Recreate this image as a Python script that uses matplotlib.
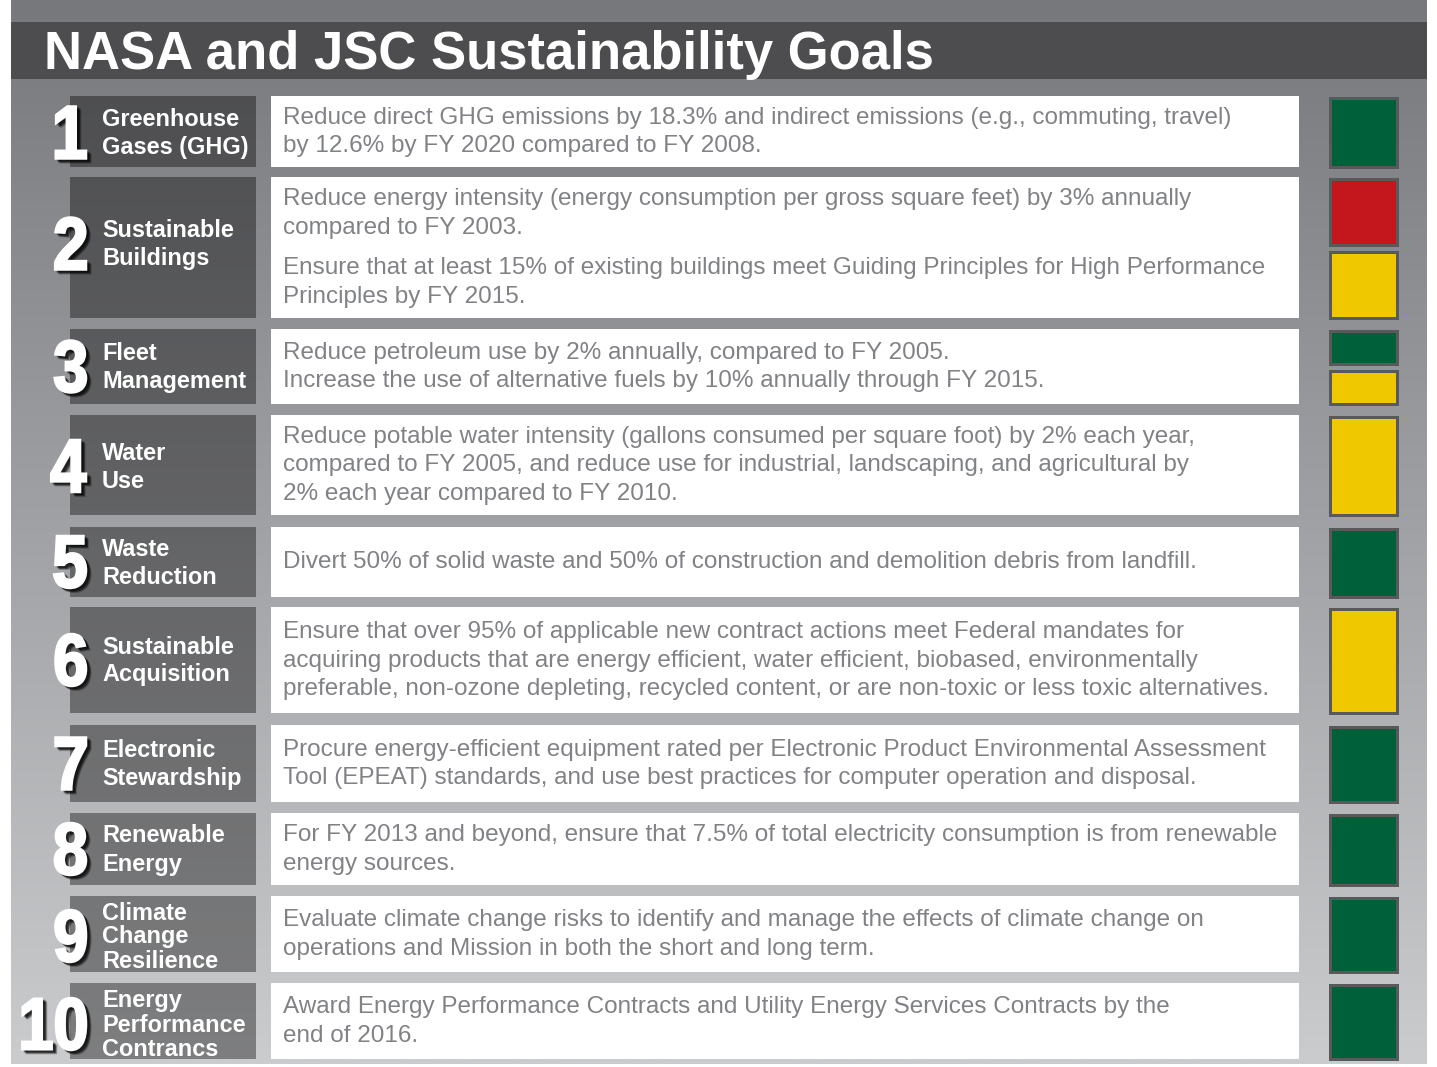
import numpy as np
import matplotlib
matplotlib.use("Agg")
import matplotlib.pyplot as plt
from matplotlib.patches import Rectangle, PathPatch
from matplotlib.textpath import TextPath
from matplotlib.font_manager import FontProperties
from matplotlib.path import Path

# ---------------- data ----------------
title = "NASA and JSC Sustainability Goals"
numbers = ["1", "2", "3", "4", "5", "6", "7", "8", "9", "10"]
labels = [
    ["Greenhouse", "Gases (GHG)"],
    ["Sustainable", "Buildings"],
    ["Fleet", "Management"],
    ["Water", "Use"],
    ["Waste", "Reduction"],
    ["Sustainable", "Acquisition"],
    ["Electronic", "Stewardship"],
    ["Renewable", "Energy"],
    ["Climate", "Change", "Resilience"],
    ["Energy", "Performance", "Contrancs"],
]
descriptions = [
    [["Reduce direct GHG emissions by 18.3% and indirect emissions (e.g., commuting, travel)",
      "by 12.6% by FY 2020 compared to FY 2008."]],
    [["Reduce energy intensity (energy consumption per gross square feet) by 3% annually",
      "compared to FY 2003."],
     ["Ensure that at least 15% of existing buildings meet Guiding Principles for High Performance",
      "Principles by FY 2015."]],
    [["Reduce petroleum use by 2% annually, compared to FY 2005.",
      "Increase the use of alternative fuels by 10% annually through FY 2015."]],
    [["Reduce potable water intensity (gallons consumed per square foot) by 2% each year,",
      "compared to FY 2005, and reduce use for industrial, landscaping, and agricultural by",
      "2% each year compared to FY 2010."]],
    [["Divert 50% of solid waste and 50% of construction and demolition debris from landfill."]],
    [["Ensure that over 95% of applicable new contract actions meet Federal mandates for",
      "acquiring products that are energy efficient, water efficient, biobased, environmentally",
      "preferable, non-ozone depleting, recycled content, or are non-toxic or less toxic alternatives."]],
    [["Procure energy-efficient equipment rated per Electronic Product Environmental Assessment",
      "Tool (EPEAT) standards, and use best practices for computer operation and disposal."]],
    [["For FY 2013 and beyond, ensure that 7.5% of total electricity consumption is from renewable",
      "energy sources."]],
    [["Evaluate climate change risks to identify and manage the effects of climate change on",
      "operations and Mission in both the short and long term."]],
    [["Award Energy Performance Contracts and Utility Energy Services Contracts by the",
      "end of 2016."]],
]
status = [["G"], ["R", "Y"], ["G", "Y"], ["Y"], ["G"], ["Y"], ["G"], ["G"], ["G"], ["G"]]

# ---------------- layout / style ----------------
W, H = 1437, 1067
status_colors = {"G": "#00603a", "R": "#c4171d", "Y": "#f0c800"}
row_top = [96, 177, 329, 415, 527, 607, 725, 813, 896, 983]
row_bot = [167, 318, 404, 515, 597, 713, 802, 885, 972, 1059]
label_dy = [0, -5, -1, 0, -1, -1, -1, -1, 1, 2]
PX = 72.0 / 100.0  # px -> pt

fig = plt.figure(figsize=(W / 100, H / 100), dpi=100)
ax = fig.add_axes([0, 0, 1, 1])
ax.set_xlim(0, W)
ax.set_ylim(H, 0)
ax.axis("off")

# background gradient
top_c = np.array([0x77, 0x78, 0x7c]) / 255.0
bot_c = np.array([0xcb, 0xcc, 0xce]) / 255.0
t = np.linspace(0, 1, 256)[:, None, None]
grad = top_c[None, None, :] + (bot_c - top_c)[None, None, :] * t
ax.imshow(grad, extent=[11, 1427, 1064, 0], aspect="auto", interpolation="bilinear", zorder=0)

# title bar
ax.add_patch(Rectangle((11, 22), 1416, 57, facecolor="#4d4d4f", edgecolor="none", zorder=1))
ax.text(44, 68.5, title, color="white", fontsize=52.6 * PX, fontweight="bold",
        family="Liberation Sans", va="baseline", ha="left", zorder=2)

fp_num = FontProperties(family="Liberation Sans", weight="bold")


def number_path(s, xr, yc, h):
    tp = TextPath((0, 0), s, size=100, prop=fp_num)
    v = tp.vertices
    xmin, xmax = v[:, 0].min(), v[:, 0].max()
    ymin, ymax = v[:, 1].min(), v[:, 1].max()
    sy = h / (ymax - ymin)
    sx = sy * 0.86
    nv = np.column_stack([xr - (xmax - v[:, 0]) * sx,
                          yc - (v[:, 1] - (ymin + ymax) / 2) * sy])
    return Path(nv, tp.codes)


label_fs = 23.5 * PX
desc_fs = 24.2 * PX
cap_lbl = 17.0
cap_desc = 17.0

for i in range(len(numbers)):
    top, bot = row_top[i], row_bot[i]
    hgt = bot - top
    cy = (top + bot) / 2

    # label box (dark translucent overlay over gradient)
    ax.add_patch(Rectangle((70, top), 186, hgt, facecolor="black", alpha=0.38,
                           edgecolor="none", zorder=1))
    # description box
    ax.add_patch(Rectangle((271, top), 1028, hgt, facecolor="white", edgecolor="none", zorder=1))

    # label text
    lines = labels[i]
    sp = 28.0 if len(lines) == 2 else 24.0
    lc = cy + label_dy[i]
    for k, ln in enumerate(lines):
        base = lc + cap_lbl / 2 + (k - (len(lines) - 1) / 2) * sp
        ax.text(102, base, ln, color="white", fontsize=label_fs, fontweight="bold",
                family="Liberation Sans", va="baseline", ha="left", zorder=3)

    # big number with shadow
    p = number_path(numbers[i], 86, lc + 1, 52)
    for dx, dy, a in [(4.5, 4.0, 0.25), (3.5, 3.0, 0.35), (2.5, 2.0, 0.4)]:
        sh = Path(p.vertices + np.array([dx, dy]), p.codes)
        ax.add_patch(PathPatch(sh, facecolor="black", edgecolor="black", lw=1.5,
                               alpha=a, zorder=3))
    ax.add_patch(PathPatch(p, facecolor="white", edgecolor="white", lw=1.8, zorder=4))

    # description text
    paras = descriptions[i]
    dsp = 28.8
    pgap = 11.0
    positions = []
    y = 0.0
    for pi, para in enumerate(paras):
        if pi > 0:
            y += pgap
        for ln in para:
            positions.append((y, ln))
            y += dsp
    total = positions[-1][0]
    dc = cy - 2
    for yy, ln in positions:
        base = dc - total / 2 + yy + cap_desc / 2
        ax.text(283, base, ln, color="#808285", fontsize=desc_fs,
                family="Liberation Sans", va="baseline", ha="left", zorder=3)

    # status boxes
    codes = status[i]
    n = len(codes)
    gap = 4.0
    sh_ = (hgt + 1 - gap * (n - 1)) / n
    for k, c in enumerate(codes):
        y0 = top + k * (sh_ + gap)
        ax.add_patch(Rectangle((1329.5, y0 + 1.5), 67, sh_ - 3, facecolor=status_colors[c],
                               edgecolor="#58595b", lw=3 * PX, zorder=2))

fig.savefig("out.png", dpi=100)
